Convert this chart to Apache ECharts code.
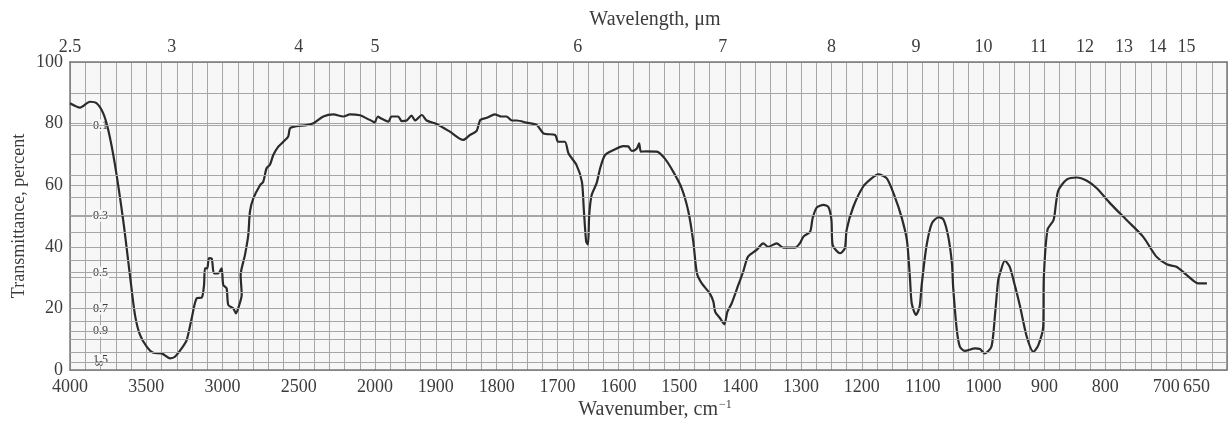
<!DOCTYPE html>
<html>
<head>
<meta charset="utf-8">
<script src="https://cdn.jsdelivr.net/npm/echarts@6/dist/echarts.min.js"></script>
<style>
  html, body { margin: 0; background: #fff; }
  #chart { width: 1229px; height: 421px; }
</style>
</head>
<body>
<div id="chart"></div>
<script>
// wavenumber (cm-1) and transmittance (%), 4000-2000 part
const wnHigh = [4000, 3934, 3869, 3825, 3782, 3749, 3705, 3650, 3607, 3574, 3541, 3497, 3454, 3399, 3344, 3312,
  3268, 3235, 3202, 3169, 3136, 3121, 3115, 3100, 3089, 3071, 3056, 3028, 3006, 2995, 2973, 2962, 2929, 2912,
  2890, 2874, 2881, 2853, 2831, 2820, 2798, 2754, 2733, 2711, 2689, 2667, 2634, 2601, 2569, 2557, 2514, 2448,
  2404, 2339, 2273, 2208, 2164, 2098, 2055, 2000];
const tHigh = [86.6, 85.2, 87.1, 86.6, 83.3, 77.9, 66.6, 48.2, 30.8, 17.9, 11.4, 7.6, 5.6, 5.4, 3.8, 4.3,
  7, 9.7, 16.8, 23.3, 23.5, 27.6, 33, 33, 36.3, 36.2, 31.4, 31.4, 33, 27.6, 26.5, 21.1, 20, 18.4,
  21.1, 24.4, 30.8, 37.3, 43.8, 51.4, 55.7, 60, 61.1, 65.5, 66.6, 69.8, 72.5, 74.1, 75.8, 78.5, 79.2, 79.5,
  80.1, 82.3, 83, 82.3, 83, 82.7, 81.7, 80.3];

// 2000-650 part
const wnLow = [2000, 1995, 1992, 1978, 1973, 1962, 1956, 1948, 1940, 1934, 1923, 1915, 1899, 1877, 1855, 1844,
  1833, 1827, 1816, 1803, 1792, 1784, 1775, 1767, 1751, 1734, 1723, 1704, 1699, 1688, 1682, 1669, 1660, 1657,
  1653, 1650, 1648, 1644, 1636, 1630, 1622, 1608, 1592, 1584, 1578, 1570, 1566, 1563, 1554, 1537, 1524, 1510,
  1496, 1485, 1477, 1471, 1463, 1450, 1444, 1441, 1433, 1426, 1421, 1414, 1403, 1395, 1387, 1373, 1362, 1354,
  1340, 1329, 1310, 1302, 1296, 1285, 1281, 1274, 1263, 1255, 1250, 1248, 1236, 1228, 1225, 1214, 1198, 1184,
  1173, 1159, 1146, 1135, 1126, 1121, 1118, 1111, 1105, 1102, 1094, 1085, 1074, 1066, 1058, 1052, 1050, 1044,
  1039, 1031, 1014, 1006, 998, 987, 981, 976, 973, 965, 957, 948, 940, 929, 918, 910, 902, 901, 895, 885,
  881, 877, 863, 847, 831, 814, 792, 765, 738, 716, 699, 683, 666, 647, 633];
const tLow = [80.3, 82.3, 81.9, 80.6, 82.3, 82.3, 80.8, 81, 82.6, 81, 82.8, 81, 79.9, 77.4, 74.7, 76.3,
  77.6, 81.2, 81.9, 83, 82.3, 82.3, 81, 81, 80.3, 79.5, 76.8, 76.3, 74.1, 74.1, 70.3, 66.6, 61.1, 52.5,
  41.7, 40.8, 50.3, 56.8, 60.6, 65.5, 69.8, 71.4, 72.7, 72.6, 71.1, 71.8, 73.6, 70.9, 71, 70.9, 68.7, 64.4,
  59, 51.4, 41.7, 31.4, 28.1, 24.9, 22.2, 18.9, 16.8, 14.8, 18.9, 21.6, 27.6, 31.9, 36.8, 39, 41.1, 40,
  41.1, 39.7, 39.7, 41.1, 43.3, 44.9, 49.2, 52.8, 53.6, 52.9, 48.7, 40.6, 37.9, 39.5, 45.5, 53, 59.5, 62.2,
  63.5, 62.2, 56.3, 49.8, 42.2, 30, 21.6, 17.9, 20.6, 27, 40, 47.6, 49.6, 48.9, 43.3, 34.6, 27, 13,
  7.6, 6.2, 7, 6.8, 5.4, 7.6, 18.4, 29.2, 31.4, 35.5, 33.5, 27, 20.6, 10.8, 5.9, 8.1, 14.1, 30, 45.5, 48.7,
  54.1, 58.4, 61.9, 62.5, 61.5, 59, 54.1, 48.7, 43.3, 36.8, 34.3, 33.5, 30.8, 28.1, 28.1];

// tick labels
const wnTicksHigh = [4000, 3500, 3000, 2500, 2000];
const wnTicksLow = [1900, 1800, 1700, 1600, 1500, 1400, 1300, 1200, 1100, 1000, 900, 800, 700, 650];
const umTicks = [2.5, 3, 4, 5, 6, 7, 8, 9, 10, 11, 12, 13, 14, 15];
const tTicks = [0, 20, 40, 60, 80, 100];
const absTicks = [0.1, 0.3, 0.5, 0.7, 0.9, 1.5];
// extra absorbance rulings on the chart paper
const absLines = [0.1, 0.2, 0.25, 0.3, 0.35, 0.4, 0.45, 0.5, 0.6, 0.7, 0.8, 0.9, 1.0, 1.25, 1.6];

const FONT = 'Liberation Serif';
const TXT = '#3c3c3c';
const GRIDC = '#a6a6a6';
const FRAME = '#7a7a7a';
const PAPER = '#f7f7f7';

const toT = a => 100 * Math.pow(10, -a);
const umHigh = umTicks.filter(u => 10000 / u >= 2000).map(u => 10000 / u);
const umLow = umTicks.filter(u => 10000 / u < 2000).map(u => 10000 / u);
const umFmt = v => String(Math.round(10000 / v * 10) / 10);

const myChart = echarts.init(document.getElementById('chart'));

function bottomAxis(grid, min, max, interval, ticks) {
  return {
    gridIndex: grid, type: 'value', position: 'bottom', inverse: true,
    min: min, max: max, interval: interval,
    axisLine: { onZero: false, lineStyle: { color: FRAME, width: 1.5 } },
    axisTick: { show: false },
    splitLine: { show: true, lineStyle: { color: GRIDC, width: 1 } },
    axisLabel: { customValues: ticks, formatter: v => String(v), margin: 8, fontSize: 18, fontFamily: FONT, color: TXT }
  };
}
function topAxis(grid, min, max, ticks) {
  return {
    gridIndex: grid, type: 'value', position: 'top', inverse: true,
    min: min, max: max,
    axisLine: { onZero: false, lineStyle: { color: FRAME, width: 1.5 } },
    axisTick: { show: false },
    splitLine: { show: false },
    axisLabel: { customValues: ticks, formatter: umFmt, margin: 6, fontSize: 18, fontFamily: FONT, color: TXT }
  };
}
function absGrid(xi, yi) {
  // helper series that only carries the absorbance rulings
  return {
    type: 'line', xAxisIndex: xi, yAxisIndex: yi, data: [], z: 1, silent: true,
    markLine: {
      silent: true, symbol: 'none', animation: false,
      label: { show: false },
      lineStyle: { color: GRIDC, width: 1, type: 'solid' },
      emphasis: { disabled: true },
      data: absLines.map(a => ({ yAxis: toT(a) }))
    }
  };
}
function spectrum(xi, yi, wn, t) {
  return {
    type: 'line', xAxisIndex: xi, yAxisIndex: yi, z: 3,
    data: wn.map((w, i) => [w, t[i]]),
    showSymbol: false, smooth: 0.25,
    lineStyle: { color: '#2b2b2b', width: 2.2 }
  };
}

const option = {
  animation: false,
  backgroundColor: '#fff',
  grid: [
    { left: 70, top: 62, width: 305, bottom: 51, show: true, backgroundColor: PAPER, borderWidth: 0 },
    { left: 375, top: 62, right: 2, bottom: 51, show: true, backgroundColor: PAPER, borderWidth: 0 }
  ],
  xAxis: [
    bottomAxis(0, 2000, 4000, 100, wnTicksHigh),
    bottomAxis(1, 600, 2000, 25, wnTicksLow),
    topAxis(0, 2000, 4000, umHigh),
    topAxis(1, 600, 2000, umLow)
  ],
  yAxis: [
    {
      gridIndex: 0, type: 'value', min: 0, max: 100, interval: 10, position: 'left',
      name: 'Transmittance, percent', nameLocation: 'middle', nameGap: 42, nameRotate: 90,
      nameTextStyle: { fontSize: 18, fontFamily: FONT, color: TXT },
      axisLine: { show: true, onZero: false, lineStyle: { color: FRAME, width: 1.5 } },
      axisTick: { show: false },
      splitLine: { show: true, lineStyle: { color: GRIDC, width: 1 } },
      axisLabel: { customValues: tTicks, margin: 7, fontSize: 18, fontFamily: FONT, color: TXT }
    },
    {
      // absorbance scale printed inside the chart
      gridIndex: 0, type: 'value', min: 0, max: 100, position: 'left',
      axisLine: { show: false }, axisTick: { show: false }, splitLine: { show: false },
      axisLabel: {
        inside: true, margin: 22,
        customValues: absTicks.map(toT),
        formatter: v => String(Math.round(-Math.log10(v / 100) * 10) / 10),
        fontSize: 12, fontFamily: FONT, color: TXT,
        backgroundColor: PAPER, padding: [0, 1]
      }
    },
    {
      // infinite absorbance mark at 0 %
      gridIndex: 0, type: 'value', min: 0, max: 100, position: 'left',
      axisLine: { show: false }, axisTick: { show: false }, splitLine: { show: false },
      axisLabel: {
        inside: true, margin: 24, customValues: [0], formatter: () => '\u221e',
        verticalAlign: 'bottom', lineHeight: 12,
        fontSize: 12, fontFamily: 'DejaVu Serif', color: TXT
      }
    },
    {
      gridIndex: 1, type: 'value', min: 0, max: 100, interval: 10, position: 'right',
      axisLine: { show: true, onZero: false, lineStyle: { color: FRAME, width: 1.5 } },
      axisTick: { show: false },
      splitLine: { show: true, lineStyle: { color: GRIDC, width: 1 } },
      axisLabel: { show: false }
    }
  ],
  graphic: [
    {
      type: 'text', x: 655, y: 20,
      style: { text: 'Wavelength, \u03bcm', align: 'center', verticalAlign: 'middle',
        font: '20px "Liberation Serif"', fill: TXT }
    },
    {
      type: 'text', x: 655, y: 410,
      style: { text: 'Wavenumber, cm{sup|\u22121}', align: 'center', verticalAlign: 'middle',
        font: '20px "Liberation Serif"', fill: TXT,
        rich: { sup: { fontSize: 12, fontFamily: FONT, fill: TXT, padding: [0, 0, 10, 1] } } }
    }
  ],
  series: [
    absGrid(0, 0),
    absGrid(1, 3),
    spectrum(0, 0, wnHigh, tHigh),
    spectrum(1, 3, wnLow, tLow)
  ]
};
myChart.setOption(option);
</script>
</body>
</html>
